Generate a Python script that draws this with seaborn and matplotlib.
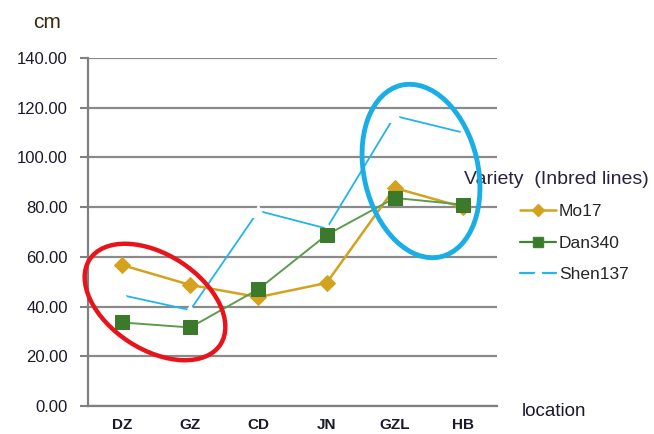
import matplotlib
matplotlib.use("Agg")
import matplotlib.pyplot as plt
import matplotlib.transforms as mtransforms
from matplotlib.patches import Ellipse
from matplotlib.lines import Line2D
import seaborn as sns
import pandas as pd

locations = ["DZ", "GZ", "CD", "JN", "GZL", "HB"]
mo17 = [56.7, 48.7, 43.8, 49.5, 87.7, 80.0]
dan340 = [33.6, 31.6, 47.0, 68.8, 83.7, 81.0]
shen137 = [44.6, 38.6, 78.5, 71.4, 116.7, 110.0]
varieties = ["Mo17", "Dan340", "Shen137"]
yticks = [0, 20, 40, 60, 80, 100, 120, 140]

df = pd.DataFrame({
    "location": locations * 3,
    "height": mo17 + dan340 + shen137,
    "variety": ["Mo17"] * 6 + ["Dan340"] * 6 + ["Shen137"] * 6,
})
df["pos"] = df["location"].map({c: i for i, c in enumerate(locations)})

sns.set_style("white")
plt.rcParams["font.family"] = ["Liberation Sans", "DejaVu Sans"]

colors = {"Mo17": "#D4A21E", "Dan340": "#3E8433", "Shen137": "#22B5EA"}
markers = {"Mo17": "D", "Dan340": "s", "Shen137": "^"}
text_col = "#1a1a2a"

fig = plt.figure(figsize=(6.54, 4.34), dpi=100)
ax = fig.add_axes([88 / 654, 1 - 406 / 434, (497 - 88) / 654, (406 - 58) / 434])

sns.lineplot(data=df, x="pos", y="height", hue="variety", style="variety",
             palette=colors, markers=markers, dashes=False, ax=ax,
             legend=False, linewidth=1.4, zorder=3)

# marker styling per series
for line in ax.get_lines():
    c = line.get_color()
    if c.lower() == colors["Mo17"].lower():
        line.set_markersize(8)
        line.set_markerfacecolor(colors["Mo17"])
        line.set_markeredgecolor(colors["Mo17"])
        line.set_linewidth(1.8)
    elif c.lower() == colors["Dan340"].lower():
        line.set_markersize(10)
        line.set_markerfacecolor("#3B7A2A")
        line.set_markeredgecolor("#3B7A2A")
        line.set_color("#5C9C4E")
        line.set_linewidth(1.4)
    else:
        line.set_markersize(8)
        line.set_markerfacecolor("white")
        line.set_markeredgecolor("white")
        line.set_linewidth(1.3)
        line.set_zorder(2.5)

ax.set_xlim(-0.5, len(locations) - 0.5)
ax.set_ylim(0, 140)
ax.set_yticks(yticks)
ax.set_yticklabels([f"{v:.2f}" for v in yticks])
ax.set_xticks(range(len(locations)))
ax.set_xticklabels(locations)
ax.set_xticks([i - 0.5 for i in range(len(locations) + 1)], minor=True)
ax.tick_params(axis="x", which="major", length=0, pad=8.5, labelsize=11,
               labelcolor=text_col)
ax.tick_params(axis="x", which="minor", length=5, width=1.5, color="#808080",
               direction="out")
ax.tick_params(axis="y", length=6, width=1.5, color="#808080", pad=8.5,
               labelsize=12, labelcolor=text_col, left=True)
for lab in ax.get_xticklabels():
    lab.set_fontweight("bold")

ax.yaxis.grid(True, color="#8a8a8a", linewidth=1.6)
ax.set_axisbelow(True)
for s in ["top", "right"]:
    ax.spines[s].set_visible(False)
for s in ["left", "bottom"]:
    ax.spines[s].set_color("#808080")
    ax.spines[s].set_linewidth(1.6)
ax.set_xlabel("")
ax.set_ylabel("")

fig.text(33 / 654, 1 - 23 / 434, "cm", fontsize=15, color="#3a2a10", va="center")
fig.text(522 / 654, 1 - 411 / 434, "location", fontsize=13.5, color=text_col,
         va="center")
fig.text(464 / 654, 1 - 179 / 434, "Variety  (Inbred lines)", fontsize=14,
         color="#2a2040", va="center")

handles = [
    Line2D([], [], color=colors["Mo17"], marker="D", markersize=6,
           linewidth=1.8, label="Mo17"),
    Line2D([], [], color="#3E8433", marker="s", markersize=7,
           markerfacecolor="#3B7A2A", linewidth=1.6, label="Dan340"),
    Line2D([], [], color=colors["Shen137"], marker="^", markersize=8,
           markerfacecolor="white", markeredgecolor="white", linewidth=1.6,
           label="Shen137"),
]
fig.legend(handles=handles, loc="upper left",
           bbox_to_anchor=(520 / 654, 1 - 204 / 434), frameon=False,
           fontsize=12.5, handlelength=2.1, handletextpad=0.15,
           labelspacing=0.95, borderaxespad=0, borderpad=0)

# highlight ellipses drawn in pixel space
px = mtransforms.IdentityTransform()
red = Ellipse((155, 434 - 302), 156, 95, angle=-33, fill=False,
              edgecolor="#E8141C", linewidth=3.2, transform=px, zorder=5)
blue = Ellipse((421, 434 - 171), 176, 114, angle=103, fill=False,
               edgecolor="#1AAEE6", linewidth=3.5, transform=px, zorder=5)
fig.add_artist(red)
fig.add_artist(blue)

fig.savefig("out.png", dpi=100)
